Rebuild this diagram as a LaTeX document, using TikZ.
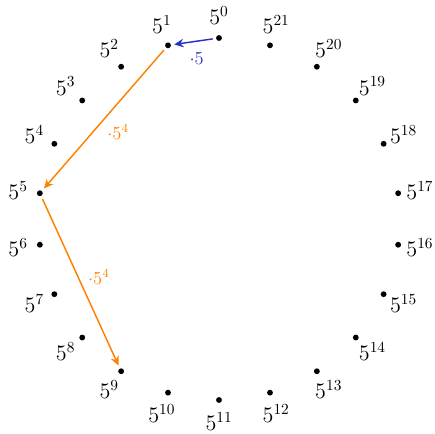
\documentclass[tikz,border=0pt]{standalone}
\usetikzlibrary{arrows.meta}
\definecolor{myblue}{RGB}{40,50,200}
\definecolor{myorange}{RGB}{255,128,0}
\begin{document}
\begin{tikzpicture}[x=0.65pt,y=0.65pt,
  dotnode/.style={circle,fill=black,inner sep=0pt,minimum size=3.8pt},
  lab/.style={inner sep=0pt,font=\fontsize{14}{16}\selectfont},
  arr/.style={-{Stealth[length=6pt,width=5.5pt]},line width=0.95pt,shorten >=2pt,shorten <=2pt},
  alab/.style={font=\fontsize{11.5}{13}\selectfont,inner sep=1pt}]
\useasboundingbox (-219,-215) rectangle (216,219);
\foreach \k in {0,...,21}{
  \pgfmathsetmacro{\ang}{90+\k*360/22}
  \node[dotnode] (p\k) at (\ang:181) {};
  \node[lab] (l\k) at (\ang:203) {$5^{\k}$};
}
\draw[arr,myblue] (p0) -- (p1) node[alab,pos=0.43,below=6pt] {$\cdot5$};
\draw[arr,myorange] (p1) -- (p5) node[alab,pos=0.59,right=8pt] {$\cdot5^4$};
\draw[arr,myorange] (p5) -- (p9) node[alab,pos=0.47,right=5pt] {$\cdot5^4$};
\end{tikzpicture}
\end{document}
